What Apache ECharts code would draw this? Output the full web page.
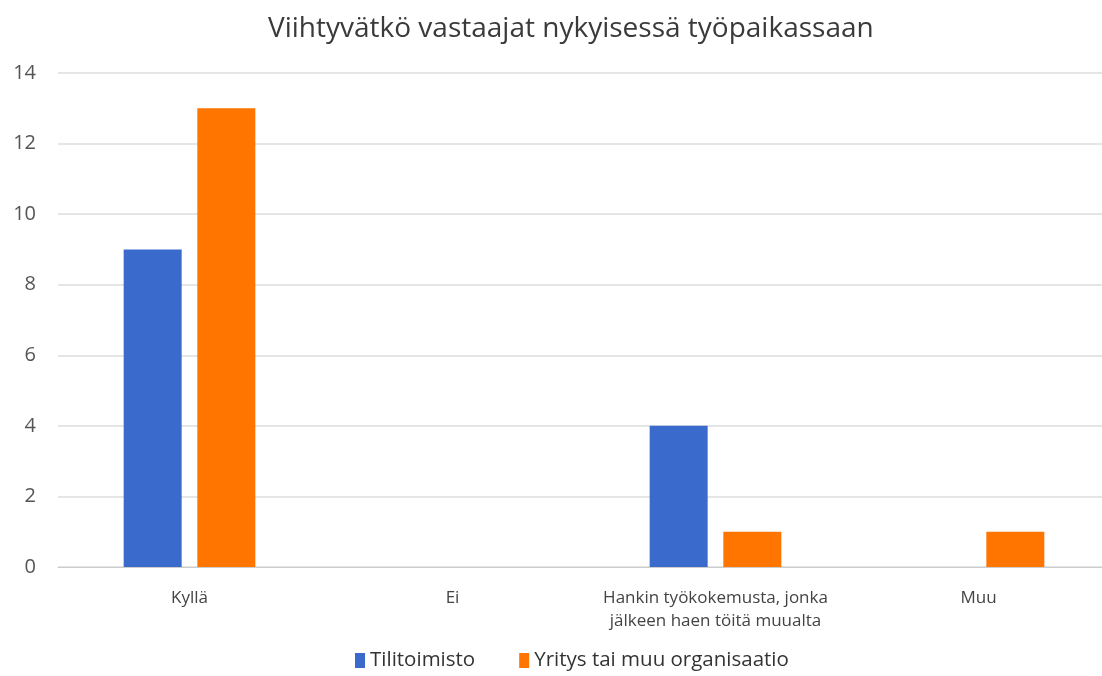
<!DOCTYPE html>
<html>
<head>
<meta charset="utf-8">
<script src="https://cdn.jsdelivr.net/npm/echarts@6/dist/echarts.min.js"></script>
<style>
  html, body { margin: 0; padding: 0; background: #fff; overflow: hidden; }
  #chart { width: 1112px; height: 676px; }
</style>
</head>
<body>
<div id="chart"></div>
<script>
// data
var categories = ['Kyllä', 'Ei', 'Hankin työkokemusta, jonka\njälkeen haen töitä muualta', 'Muu'];
var tilitoimisto = [9, 0, 4, 0];
var yritys = [13, 0, 1, 1];
var yTicks = [0, 2, 4, 6, 8, 10, 12, 14];

var font = '"Open Sans", "Noto Sans", sans-serif';

// chart div is a bit wider than the window: the plot runs past the right edge in the original
var chart = echarts.init(document.getElementById('chart'));
chart.setOption({
  animation: false,
  textStyle: { fontFamily: font },
  title: {
    text: 'Viihtyvätkö vastaajat nykyisessä työpaikassaan',
    left: 263,
    top: 10,
    textStyle: { fontSize: 28, fontWeight: 'normal', color: '#3a3a3a', fontFamily: font }
  },
  legend: {
    bottom: 0,
    left: 350,
    itemWidth: 10,
    itemHeight: 15,
    itemGap: 44,
    icon: 'rect',
    textStyle: { fontSize: 20.5, color: '#333', fontFamily: font },
    data: ['Tilitoimisto', 'Yritys tai muu organisaatio']
  },
  grid: { left: 58, right: 2, top: 73, height: 494 },
  xAxis: {
    type: 'category',
    data: categories,
    axisTick: { show: false },
    axisLine: { lineStyle: { color: '#ccc' } },
    axisLabel: { interval: 0, color: '#444', fontSize: 17, margin: 20, lineHeight: 23, fontFamily: font }
  },
  yAxis: {
    type: 'value',
    min: yTicks[0],
    max: yTicks[yTicks.length - 1],
    interval: 2,
    axisLabel: { color: '#555', fontSize: 20, margin: 22, fontFamily: font },
    splitLine: { lineStyle: { color: '#ddd', width: 1.5 } }
  },
  series: [
    {
      name: 'Tilitoimisto',
      type: 'bar',
      data: tilitoimisto,
      barWidth: 58,
      barGap: '27%',
      itemStyle: { color: '#3a6bcc' }
    },
    {
      name: 'Yritys tai muu organisaatio',
      type: 'bar',
      data: yritys,
      barWidth: 58,
      barGap: '27%',
      itemStyle: { color: '#ff7500' }
    }
  ]
});
</script>
</body>
</html>
